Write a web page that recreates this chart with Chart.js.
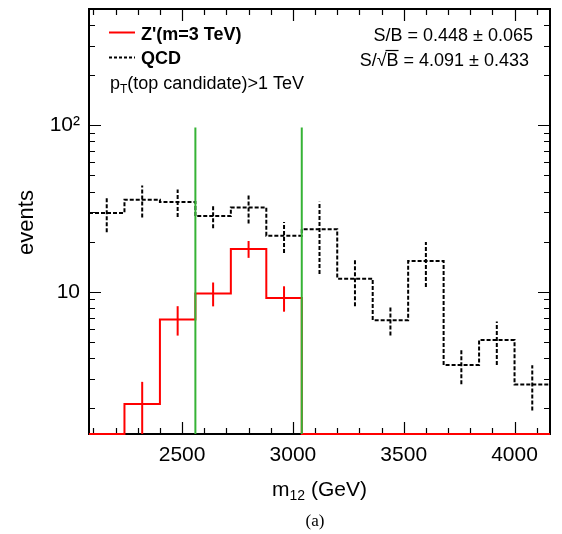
<!DOCTYPE html>
<html>
<head>
<meta charset="utf-8">
<script src="https://cdn.jsdelivr.net/npm/chart.js@4/dist/chart.umd.min.js"></script>
<style>
  html, body { margin: 0; padding: 0; background: #fff; }
  #massChart { display: block; }
</style>
</head>
<body>
<canvas id="massChart" width="562" height="534"></canvas>
<script>
// bin edges [GeV]
const binEdges = [2080, 2240, 2400, 2560, 2720, 2880, 3040, 3200, 3360, 3520, 3680, 3840, 4000, 4160];
// QCD background (events per bin, and error)
const qcdEvents = [29.8, 35.8, 34.7, 28.5, 32.1, 21.7, 23.8, 12.0, 6.76, 15.3, 3.63, 5.13, 2.78];
const qcdErrors = [7.0, 7.8, 6.5, 4.4, 6.4, 4.6, 11.0, 3.8, 1.3, 4.6, 0.84, 1.5, 0.84];
// Z'(m=3 TeV) signal
const zpEvents = [0, 2.12, 6.83, 9.78, 18.1, 9.2, 0, 0, 0, 0, 0, 0, 0];
const zpErrors = [0, 0.76, 1.37, 1.6, 2.1, 1.6, 0, 0, 0, 0, 0, 0, 0];
// mass window
const windowEdges = [2560, 3040];
const windowTop = 97;
// axes
const xRange = [2080, 4160];
const yRange = [1.4, 500];
const xTickLabels = [2500, 3000, 3500, 4000];
const yTickLabels = [10, 100];

const FONT = "'Liberation Sans', Arial, Helvetica, sans-serif";

// histogram as stepped line: one point per left edge + last edge
function histPoints(values) {
  const pts = values.map((v, i) => ({ x: binEdges[i], y: v > 0 ? v : yRange[0] }));
  pts.push({ x: binEdges[binEdges.length - 1], y: pts[pts.length - 1].y });
  return pts;
}

// minor ticks
const xTicks = [];
for (let v = 2100; v <= 4100; v += 100) xTicks.push(v);
const yTicks = [];
for (let d = 1; d <= 100; d *= 10) {
  for (let m = 1; m <= 9; m++) {
    const v = m * d;
    if (v >= yRange[0] && v <= yRange[1]) yTicks.push(v);
  }
}

// error bars, frame, ticks and texts (ROOT look)
const rootStyle = {
  id: 'rootStyle',
  beforeDatasetsDraw(chart) {
    const { ctx, chartArea: a, scales: { x, y } } = chart;
    ctx.save();
    ctx.strokeStyle = '#000';
    ctx.lineWidth = 1.2;
    ctx.beginPath();
    xTicks.forEach(v => {
      const px = Math.round(x.getPixelForValue(v)) + 0.5;
      const len = xTickLabels.includes(v) ? 12 : 6;
      ctx.moveTo(px, a.bottom); ctx.lineTo(px, a.bottom - len);
      ctx.moveTo(px, a.top); ctx.lineTo(px, a.top + len);
    });
    yTicks.forEach(v => {
      const py = Math.round(y.getPixelForValue(v)) + 0.5;
      const len = yTickLabels.includes(v) ? 12 : 6;
      ctx.moveTo(a.left, py); ctx.lineTo(a.left + len, py);
      ctx.moveTo(a.right, py); ctx.lineTo(a.right - len, py);
    });
    ctx.stroke();
    ctx.lineWidth = 2;
    ctx.strokeRect(a.left, a.top, a.right - a.left, a.bottom - a.top);
    ctx.restore();
  },
  afterDatasetsDraw(chart) {
    const { ctx, chartArea: a, scales: { x, y } } = chart;
    ctx.save();
    ctx.beginPath();
    ctx.rect(a.left, a.top, a.right - a.left, a.bottom - a.top);
    ctx.clip();
    const bars = (vals, errs, color, dash) => {
      ctx.strokeStyle = color;
      ctx.lineWidth = 2;
      ctx.setLineDash(dash);
      vals.forEach((v, i) => {
        if (!(errs[i] > 0)) return;
        const cx = x.getPixelForValue((binEdges[i] + binEdges[i + 1]) / 2);
        const lo = v - errs[i];
        ctx.beginPath();
        ctx.moveTo(cx, lo > 0 ? y.getPixelForValue(lo) : a.bottom + 2);
        ctx.lineTo(cx, y.getPixelForValue(v + errs[i]));
        ctx.stroke();
      });
    };
    bars(qcdEvents, qcdErrors, '#000', [4, 2]);
    bars(zpEvents, zpErrors, '#ff0000', []);
    ctx.restore();
  },
  afterDraw(chart) {
    const { ctx, chartArea: a } = chart;
    ctx.save();
    ctx.fillStyle = '#000';
    ctx.textBaseline = 'alphabetic';

    // legend
    ctx.lineWidth = 2;
    ctx.strokeStyle = '#ff0000';
    ctx.beginPath(); ctx.moveTo(109, 32.5); ctx.lineTo(135, 32.5); ctx.stroke();
    ctx.strokeStyle = '#000';
    ctx.setLineDash([3, 2]);
    ctx.beginPath(); ctx.moveTo(109, 57.5); ctx.lineTo(135, 57.5); ctx.stroke();
    ctx.setLineDash([]);
    ctx.font = 'bold 18px ' + FONT;
    ctx.textAlign = 'left';
    ctx.fillText("Z'(m=3 TeV)", 141, 39.5);
    ctx.fillText('QCD', 141, 64);

    // p_T(top candidate)>1 TeV
    ctx.font = '18px ' + FONT;
    let tx = 110;
    ctx.fillText('p', tx, 88.5);
    tx += ctx.measureText('p').width;
    ctx.font = '12px ' + FONT;
    ctx.fillText('T', tx, 93);
    tx += ctx.measureText('T').width;
    ctx.font = '18px ' + FONT;
    ctx.fillText('(top candidate)>1 TeV', tx, 88.5);

    // S/B and S/sqrt(B)
    ctx.textAlign = 'right';
    ctx.fillText('S/B = 0.448 \u00b1 0.065', 533, 40.5);
    const line2 = 'S/\u221aB = 4.091 \u00b1 0.433';
    ctx.fillText(line2, 529, 65.5);
    const w = ctx.measureText(line2).width;
    const pre = ctx.measureText('S/\u221a').width;
    const bw = ctx.measureText('B').width;
    const x0 = 529 - w;
    ctx.lineWidth = 1.2;
    ctx.beginPath();
    ctx.moveTo(x0 + pre - 1, 50.5);
    ctx.lineTo(x0 + pre + bw, 50.5);
    ctx.stroke();

    // x title: m_12 (GeV)
    ctx.textAlign = 'left';
    const cx = (a.left + a.right) / 2;
    ctx.font = '21px ' + FONT;
    const wm = ctx.measureText('m').width;
    const wg = ctx.measureText(' (GeV)').width;
    ctx.font = '14px ' + FONT;
    const ws = ctx.measureText('12').width;
    let px = cx - (wm + ws + wg) / 2;
    ctx.font = '21px ' + FONT;
    ctx.fillText('m', px, 495.5);
    px += wm;
    ctx.font = '14px ' + FONT;
    ctx.fillText('12', px, 500);
    px += ws;
    ctx.font = '21px ' + FONT;
    ctx.fillText(' (GeV)', px, 495.5);

    // y title
    ctx.save();
    ctx.translate(33, (a.top + a.bottom) / 2 + 1);
    ctx.rotate(-Math.PI / 2);
    ctx.textAlign = 'center';
    ctx.font = '22px ' + FONT;
    ctx.fillText('events', 0, 0);
    ctx.restore();

    // caption
    ctx.textAlign = 'center';
    ctx.font = "17px 'Liberation Serif', 'Times New Roman', serif";
    ctx.fillText('(a)', 315, 526);
    ctx.restore();
  }
};

new Chart(document.getElementById('massChart'), {
  type: 'line',
  data: {
    datasets: [
      {
        label: 'window low',
        data: [{ x: windowEdges[0], y: yRange[0] }, { x: windowEdges[0], y: windowTop }],
        borderColor: '#36b336',
        borderWidth: 2
      },
      {
        label: 'window high',
        data: [{ x: windowEdges[1], y: yRange[0] }, { x: windowEdges[1], y: windowTop }],
        borderColor: '#36b336',
        borderWidth: 2
      },
      {
        label: "Z'(m=3 TeV)",
        data: histPoints(zpEvents),
        borderColor: '#ff0000',
        borderWidth: 2,
        stepped: true,
        clip: 2
      },
      {
        label: 'QCD',
        data: histPoints(qcdEvents),
        borderColor: '#000',
        borderWidth: 2,
        borderDash: [4, 2],
        stepped: true
      }
    ]
  },
  options: {
    responsive: false,
    animation: false,
    layout: { padding: { left: 0, top: 9, right: 12, bottom: 0 } },
    elements: { point: { radius: 0 }, line: { tension: 0, fill: false } },
    plugins: { legend: { display: false }, tooltip: { enabled: false } },
    scales: {
      x: {
        type: 'linear',
        min: xRange[0],
        max: xRange[1],
        bounds: 'data',
        grid: { display: false, drawTicks: false },
        border: { display: false },
        afterBuildTicks: s => { s.ticks = xTicks.map(v => ({ value: v })); },
        afterFit: s => { s.height = 100; s.paddingLeft = 0; s.paddingRight = 0; },
        ticks: {
          autoSkip: false,
          maxRotation: 0,
          padding: 9,
          color: '#000',
          font: { family: FONT, size: 21 },
          callback: v => xTickLabels.includes(v) ? String(v) : ''
        }
      },
      y: {
        type: 'logarithmic',
        min: yRange[0],
        max: yRange[1],
        bounds: 'data',
        grid: { display: false, drawTicks: false },
        border: { display: false },
        afterBuildTicks: s => { s.ticks = yTicks.map(v => ({ value: v })); },
        afterFit: s => { s.width = 89; s.paddingTop = 0; s.paddingBottom = 0; },
        ticks: {
          autoSkip: false,
          padding: 9,
          color: '#000',
          font: { family: FONT, size: 21 },
          callback: v => v === 10 ? '10' : v === 100 ? '10\u00b2' : ''
        }
      }
    }
  },
  plugins: [rootStyle]
});
</script>
</body>
</html>
